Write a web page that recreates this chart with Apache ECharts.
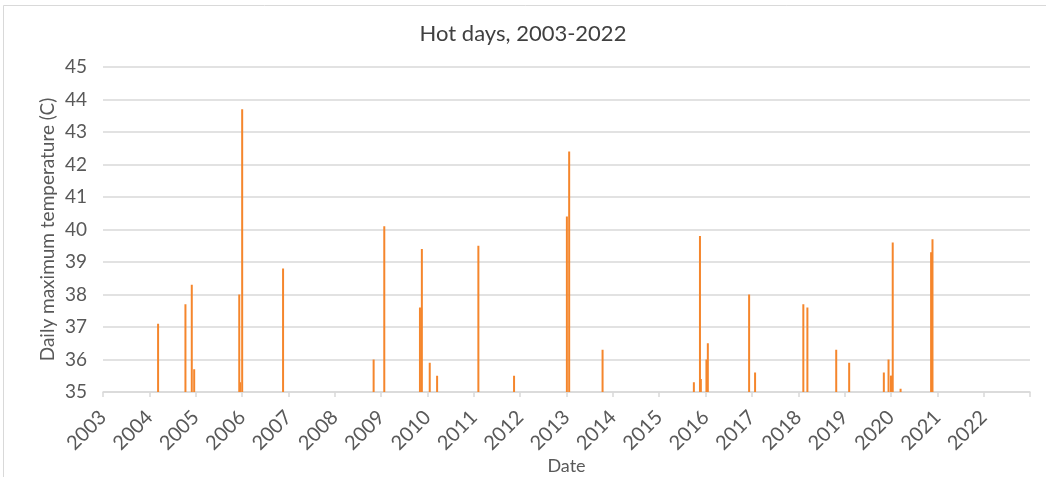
<!DOCTYPE html>
<html>
<head>
<meta charset="utf-8">
<script src="https://cdn.jsdelivr.net/npm/echarts@6/dist/echarts.min.js"></script>
<style>
html,body{margin:0;padding:0;background:#fff;}
#chart{width:1046px;height:477px;}
</style>
</head>
<body>
<div id="chart"></div>
<script>
// Hot days (date, daily maximum temperature in C)
const hotDates = [
  '2004-03-10','2004-10-12','2004-12-01','2004-12-20',
  '2005-12-10','2005-12-17','2006-01-02','2006-11-20',
  '2008-11-03','2009-01-26','2009-11-03','2009-11-18',
  '2010-01-19','2010-03-18','2011-02-06','2011-11-14',
  '2013-01-04','2013-01-22','2013-10-12',
  '2015-10-01','2015-11-18','2015-11-25','2016-01-08','2016-01-19',
  '2016-12-10','2017-01-26','2018-02-10','2018-03-14',
  '2018-10-27','2019-02-06','2019-11-06','2019-12-13',
  '2020-01-01','2020-01-03','2020-01-15','2020-03-17',
  '2020-11-13','2020-11-24'
];
const hotTemps = [
  37.1, 37.7, 38.3, 35.7,
  38.0, 35.3, 43.7, 38.8,
  36.0, 40.1, 37.6, 39.4,
  35.9, 35.5, 39.5, 35.5,
  40.4, 42.4, 36.3,
  35.3, 39.8, 35.4, 36.0, 36.5,
  38.0, 35.6, 37.7, 37.6,
  36.3, 35.9, 35.6, 36.0,
  35.5, 35.5, 39.6, 35.1,
  39.3, 39.7
];
const yearStart = 2003;
const yearEnd = 2023;
const tempMin = 35;
const tempMax = 45;

function toDecimalYear(s) {
  const d = new Date(s + 'T00:00:00Z');
  const y = d.getUTCFullYear();
  const start = Date.UTC(y, 0, 1);
  const next = Date.UTC(y + 1, 0, 1);
  return y + (d.getTime() - start) / (next - start);
}

const seriesData = hotDates.map((d, i) => [toDecimalYear(d), hotTemps[i]]);

const chart = echarts.init(document.getElementById('chart'), null, {renderer: 'canvas'});
const labelColor = '#595959';
const fontFam = 'Lato, "Open Sans", sans-serif';
chart.setOption({
  animation: false,
  backgroundColor: '#fff',
  title: {
    text: 'Hot days, 2003-2022',
    left: 'center',
    top: 18,
    textStyle: {fontFamily: fontFam, fontSize: 22, fontWeight: 'normal', color: '#404040'}
  },
  graphic: [{
    type: 'rect',
    shape: {x: 3.5, y: 5.5, width: 1046, height: 480},
    style: {fill: 'none', stroke: '#d9d9d9', lineWidth: 1},
    silent: true
  }],
  grid: {left: 103, right: 16, top: 67, bottom: 85, containLabel: false, outerBoundsMode: 'none'},
  xAxis: {
    type: 'value',
    min: yearStart,
    max: yearEnd,
    interval: 1,
    name: 'Date',
    nameLocation: 'middle',
    nameGap: 65,
    nameMoveOverlap: false,
    nameTextStyle: {fontFamily: fontFam, fontSize: 18, color: labelColor},
    axisLine: {show: true, onZero: false, lineStyle: {color: '#d9d9d9', width: 1.5}},
    axisTick: {show: true, length: 5, lineStyle: {color: '#d9d9d9', width: 1.5}},
    splitLine: {show: false},
    axisLabel: {
      rotate: 45,
      fontFamily: fontFam,
      fontSize: 20,
      color: labelColor,
      margin: 22,
      formatter: v => (v >= yearEnd ? '' : String(Math.round(v)))
    }
  },
  yAxis: {
    type: 'value',
    min: tempMin,
    max: tempMax,
    interval: 1,
    name: 'Daily maximum temperature (C)',
    nameLocation: 'middle',
    nameRotate: 90,
    nameGap: 46,
    nameMoveOverlap: false,
    nameTextStyle: {fontFamily: fontFam, fontSize: 19, color: labelColor},
    axisLine: {show: false},
    axisTick: {show: false},
    splitLine: {lineStyle: {color: '#d9d9d9', width: 1.5}},
    axisLabel: {fontFamily: fontFam, fontSize: 19, color: labelColor, margin: 16}
  },
  series: [{
    type: 'bar',
    data: seriesData,
    barWidth: 2,
    clip: true,
    itemStyle: {color: '#F5862C'},
    z: 3
  }]
});
</script>
</body>
</html>
